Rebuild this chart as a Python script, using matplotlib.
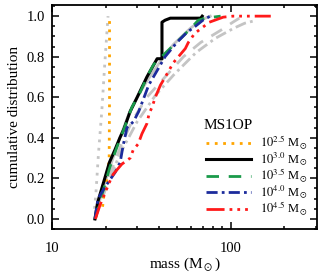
import matplotlib
matplotlib.use("Agg")
import matplotlib.pyplot as plt
from matplotlib.ticker import MultipleLocator, LogLocator, NullFormatter, FuncFormatter

plt.rcParams['font.family'] = ['Liberation Serif', 'DejaVu Serif']
plt.rcParams['mathtext.fontset'] = 'stix'

# reference (gray) curves
gray_dot_m = [17.3, 17.6, 18.2, 19.0, 19.8, 20.3, 20.6]
gray_dot_c = [0.05, 0.12, 0.32, 0.53, 0.78, 0.92, 1.0]
gray_solid_m = [17.4, 19.0, 21.0, 24.0, 27.0, 30.0, 34.0, 40.0, 47.8, 59.5, 70.0, 77.0]
gray_solid_c = [0.0, 0.13, 0.25, 0.40, 0.52, 0.60, 0.68, 0.77, 0.86, 0.94, 0.985, 1.0]
gray_dash_m = [17.4, 20.0, 24.0, 28.0, 34.0, 44.0, 54.5, 68.0, 88.0, 103.0, 112.0]
gray_dash_c = [0.0, 0.16, 0.35, 0.48, 0.60, 0.71, 0.80, 0.87, 0.93, 0.97, 0.99]
gray_dd_m = [17.4, 20.0, 24.0, 30.0, 38.0, 48.0, 64.0, 82.0, 104.0, 120.0, 140.0]
gray_dd_c = [0.0, 0.15, 0.32, 0.48, 0.61, 0.71, 0.82, 0.89, 0.94, 0.965, 0.98]

# MS1OP curves
m25 = [19.2, 19.5, 20.0, 20.4, 20.9, 21.0, 21.0]
c25 = [0.06, 0.11, 0.16, 0.21, 0.30, 0.60, 1.0]
m30 = [17.4, 18.0, 19.0, 19.9, 21.0, 22.5, 24.0, 25.2, 27.4, 30.0, 34.0, 38.8, 41.3, 41.3, 43.0, 46.0, 68.0, 69.4]
c30 = [0.0, 0.08, 0.15, 0.21, 0.28, 0.34, 0.40, 0.44, 0.53, 0.60, 0.70, 0.79, 0.79, 0.97, 0.98, 0.99, 0.99, 1.0]
m35 = [17.5, 18.3, 19.5, 21.0, 23.0, 25.5, 28.0, 31.0, 34.5, 37.0, 40.0, 45.8, 52.5, 60.0, 66.0, 72.0, 88.0]
c35 = [0.0, 0.07, 0.15, 0.25, 0.35, 0.45, 0.55, 0.62, 0.71, 0.76, 0.79, 0.84, 0.89, 0.94, 0.98, 0.99, 1.0]
m40 = [17.4, 18.1, 19.9, 22.6, 24.1, 25.0, 26.3, 28.6, 30.6, 34.8, 38.7, 43.0, 50.0, 57.0, 63.5, 70.0, 77.0]
c40 = [0.0, 0.10, 0.16, 0.23, 0.28, 0.36, 0.45, 0.48, 0.53, 0.66, 0.73, 0.80, 0.87, 0.92, 0.95, 0.98, 1.0]
m45 = [17.5, 18.6, 21.2, 22.0, 24.6, 27.4, 28.5, 30.4, 31.9, 34.0, 35.0, 36.3, 37.9, 40.5, 43.1, 47.8, 55.8, 58.0, 63.0, 76.0, 91.0, 103.0, 168.0]
c45 = [0.0, 0.07, 0.19, 0.22, 0.27, 0.30, 0.34, 0.37, 0.42, 0.47, 0.52, 0.55, 0.60, 0.66, 0.70, 0.77, 0.84, 0.87, 0.915, 0.97, 0.995, 1.0, 1.0]

labels = [r'$10^{2.5}$ M$_\odot$', r'$10^{3.0}$ M$_\odot$', r'$10^{3.5}$ M$_\odot$',
          r'$10^{4.0}$ M$_\odot$', r'$10^{4.5}$ M$_\odot$']

fig = plt.figure(figsize=(3.22, 2.73), dpi=100)
ax = fig.add_axes([0.1615, 0.161, 0.823, 0.8207])

gc = '#c4c4c4'
ax.plot(gray_dot_m, gray_dot_c, color=gc, lw=2, ls=(0, (1, 2)))
ax.plot(gray_solid_m, gray_solid_c, color=gc, lw=2)
ax.plot(gray_dash_m, gray_dash_c, color=gc, lw=2, ls=(0, (4.5, 3.5)))
ax.plot(gray_dd_m, gray_dd_c, color=gc, lw=2, ls=(0, (4, 1.5, 1, 1.5)))

ax.plot(m25, c25, color='#ffa500', lw=2, ls=(0, (1, 2)), label=labels[0])
ax.plot(m30, c30, color='black', lw=2.2, label=labels[1])
ax.plot(m35, c35, color='#1a9a4a', lw=2, ls=(0, (4.5, 3.5)), label=labels[2])
ax.plot(m40, c40, color='#1c2b9c', lw=2, ls=(0, (4, 1.5, 1, 1.5)), label=labels[3])
ax.plot(m45, c45, color='#ff1a1a', lw=2, ls=(0, (6.5, 1.8, 1, 1.8, 1, 1.8, 1, 1.8)), label=labels[4])

ax.set_xscale('log')
ax.set_xlim(10, 305)
ax.set_ylim(-0.05, 1.055)
ax.xaxis.set_major_locator(LogLocator(base=10))
ax.xaxis.set_minor_locator(LogLocator(base=10, subs=range(2, 10)))
ax.xaxis.set_major_formatter(FuncFormatter(lambda v, p: '%d' % v))
ax.xaxis.set_minor_formatter(NullFormatter())
ax.yaxis.set_major_locator(MultipleLocator(0.2))
ax.yaxis.set_minor_locator(MultipleLocator(0.05))
ax.yaxis.set_major_formatter(FuncFormatter(lambda v, p: '%.1f' % v))

ax.tick_params(which='both', direction='in', top=True, right=True, width=1.1, labelsize=10.5)
ax.tick_params(which='major', length=5, pad=5)
ax.tick_params(axis='x', which='major', pad=9)
ax.tick_params(which='minor', length=2.5)
for s in ax.spines.values():
    s.set_linewidth(1.3)

ax.set_xlabel(r'mass (M$_\odot$)', fontsize=11, labelpad=1)
ax.set_ylabel('cumulative distribution', fontsize=11, labelpad=4)

leg = ax.legend(frameon=False, loc='lower right',
                bbox_to_anchor=(1.0, 0.01), fontsize=9,
                handlelength=3.6, handletextpad=0.7, labelspacing=-0.12, borderaxespad=0.3)
ax.text(0.57, 0.46, 'MS1OP', transform=ax.transAxes, fontsize=11, ha='left', va='center')

fig.savefig('out.png', dpi=100)
